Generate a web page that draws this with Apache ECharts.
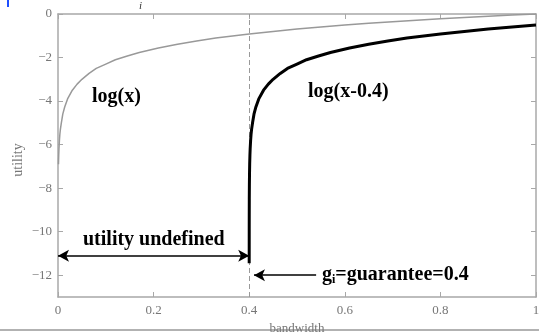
<!DOCTYPE html>
<html>
<head>
<meta charset="utf-8">
<script src="https://cdn.jsdelivr.net/npm/echarts@6/dist/echarts.min.js"></script>
<style>
  html, body { margin: 0; padding: 0; background: #fff; }
  #chart { width: 539px; height: 332px; }
</style>
</head>
<body>
<div id="chart"></div>
<script>
// values
var logX = [
  [0.001, -6.9], [0.0015, -6.5], [0.002, -6.2], [0.003, -5.8], [0.004, -5.5],
  [0.005, -5.3], [0.007, -5.0], [0.01, -4.6], [0.014, -4.27], [0.02, -3.9],
  [0.03, -3.5], [0.04, -3.22], [0.05, -3.0], [0.065, -2.73], [0.08, -2.5],
  [0.1, -2.3], [0.12, -2.1], [0.145, -1.93], [0.17, -1.77], [0.21, -1.56],
  [0.25, -1.39], [0.29, -1.24], [0.33, -1.1], [0.4, -0.92], [0.45, -0.8],
  [0.5, -0.69], [0.55, -0.6], [0.6, -0.51], [0.65, -0.43], [0.7, -0.36],
  [0.75, -0.29], [0.8, -0.22], [0.85, -0.16], [0.9, -0.1], [0.95, -0.05], [1, 0]
]
var logShift = [
  [0.4, -11.45], [0.40002, -10.8], [0.40005, -9.9], [0.4001, -9.2], [0.4002, -8.5],
  [0.4004, -7.8], [0.4007, -7.3], [0.401, -6.9], [0.4015, -6.5], [0.402, -6.2],
  [0.403, -5.8], [0.404, -5.5], [0.405, -5.3], [0.407, -5.0], [0.41, -4.6],
  [0.414, -4.27], [0.42, -3.9], [0.43, -3.5], [0.44, -3.22], [0.45, -3.0],
  [0.465, -2.73], [0.48, -2.5], [0.5, -2.3], [0.52, -2.1], [0.545, -1.93],
  [0.57, -1.77], [0.61, -1.56], [0.65, -1.39], [0.69, -1.24], [0.73, -1.1],
  [0.8, -0.92], [0.85, -0.8], [0.9, -0.69], [0.95, -0.6], [1, -0.51]
]
var yTicks = [-12, -10, -8, -6, -4, -2, 0]
var guarantee = 0.4
var undefinedY = -11.1
var arrowY = -12

var serif = 'Liberation Serif'
var axisGray = '#a8a8a8'
var labelGray = '#777'

const chart = echarts.init(document.getElementById('chart'))

function axisBase () {
  return {
    type: 'value',
    min: 0,
    max: 1,
    interval: 0.2,
    axisLine: { show: true, onZero: false, lineStyle: { color: axisGray, width: 1.5 } },
    axisTick: { show: true, inside: true, length: 5, lineStyle: { color: axisGray } },
    splitLine: { show: false }
  }
}

function yBase () {
  return {
    type: 'value',
    min: -13,
    max: 0,
    axisLine: { show: true, onZero: false, lineStyle: { color: axisGray, width: 1.5 } },
    axisTick: { show: true, inside: true, length: 5, customValues: yTicks, lineStyle: { color: axisGray } },
    splitLine: { show: false }
  }
}

var option = {
  animation: false,
  grid: { left: 58, right: 3, top: 14, bottom: 35, outerBoundsMode: 'none' },
  xAxis: [
    Object.assign(axisBase(), {
      position: 'bottom',
      name: 'bandwidth',
      nameLocation: 'middle',
      nameGap: 22,
      nameTextStyle: { fontFamily: serif, fontSize: 13, color: labelGray },
      axisLabel: {
        margin: 7, fontFamily: serif, fontSize: 13, color: labelGray,
        formatter: function (v) { return v === 0 || v === 1 ? String(v) : v.toFixed(1) }
      }
    }),
    Object.assign(axisBase(), { position: 'top', axisLabel: { show: false } })
  ],
  yAxis: [
    Object.assign(yBase(), {
      position: 'left',
      axisLabel: {
        margin: 6, fontFamily: serif, fontSize: 13, color: labelGray,
        customValues: yTicks,
        formatter: function (v) { return v < 0 ? '\u2212' + Math.abs(v) : String(v) }
      }
    }),
    Object.assign(yBase(), { position: 'right', axisLabel: { show: false } })
  ],
  series: [
    {
      type: 'line',
      z: 1,
      data: logX,
      showSymbol: false,
      lineStyle: { color: '#999', width: 1.5 },
      markLine: {
        silent: true,
        symbol: 'none',
        label: { show: false },
        lineStyle: { color: '#999', type: [5, 3], width: 1 },
        data: [{ xAxis: guarantee }]
      }
    },
    {
      type: 'line',
      z: 5,
      data: logShift,
      showSymbol: false,
      lineStyle: { color: '#000', width: 3 },
      markLine: {
        silent: true,
        label: { show: false },
        symbolSize: [9, 11],
        lineStyle: { color: '#000', type: 'solid', width: 1.5 },
        data: [
          [{ coord: [0, undefinedY], symbol: 'arrow' }, { coord: [guarantee, undefinedY], symbol: 'arrow' }],
          [{ coord: [0.54, arrowY], symbol: 'none' }, { coord: [0.41, arrowY], symbol: 'arrow' }]
        ]
      }
    }
  ],
  graphic: [
    { type: 'rect', left: 7, top: 0, shape: { width: 2, height: 7 }, style: { fill: '#1f4fff' } },
    { type: 'text', left: 139, top: 1, style: { text: 'i', font: 'italic 11px "Liberation Serif"', fill: '#333' } },
    {
      type: 'text', x: 18, y: 160, rotation: Math.PI / 2,
      style: { text: 'utility', font: '14px "Liberation Serif"', fill: labelGray, align: 'center', verticalAlign: 'middle' }
    },
    { type: 'text', left: 92, top: 87, style: { text: 'log(x)', font: 'bold 20px "Liberation Serif"', fill: '#000' } },
    { type: 'text', left: 308, top: 82, style: { text: 'log(x-0.4)', font: 'bold 20px "Liberation Serif"', fill: '#000' } },
    { type: 'text', left: 83, top: 230, style: { text: 'utility undefined', font: 'bold 20px "Liberation Serif"', fill: '#000' } },
    {
      type: 'text', left: 322, top: 265,
      style: {
        text: '{b|g}{s|i}{b|=guarantee=0.4}',
        rich: {
          b: { font: 'bold 20px "Liberation Serif"', fill: '#000' },
          s: { font: 'bold 12px "Liberation Serif"', fill: '#000', verticalAlign: 'bottom', padding: [10, 0, 0, 0] }
        }
      }
    },
    { type: 'line', shape: { x1: 0, y1: 330, x2: 539, y2: 330 }, style: { stroke: '#999', lineWidth: 1.5 } }
  ]
}

chart.setOption(option)
</script>
</body>
</html>
